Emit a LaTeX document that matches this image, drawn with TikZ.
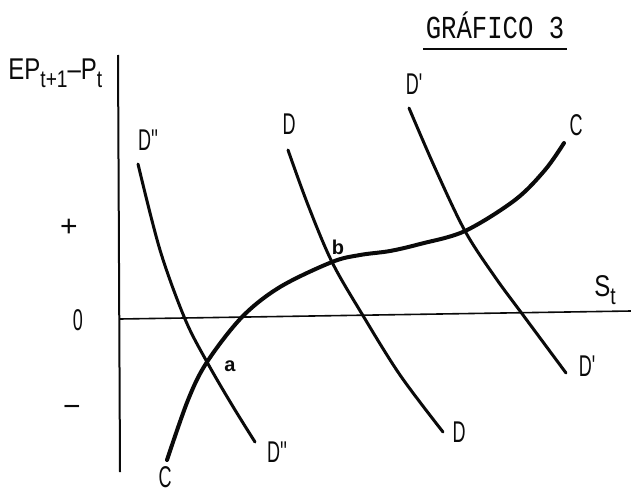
\documentclass[tikz,border=0pt]{standalone}
\usepackage{fontspec}
\setmainfont{Liberation Sans}
\newfontfamily\typefont{Liberation Mono}
\usepackage{tikz}
\usetikzlibrary{positioning}
\definecolor{ink}{RGB}{10,10,10}
\newcommand{\narrow}[1]{\scalebox{0.6}[1]{#1}}
\tikzset{
  axisline/.style={draw=ink, line width=1pt},
  supply/.style={draw=ink, line width=2pt, line cap=round},
  demand/.style={draw=ink, line width=1.5pt, line cap=round},
  lbl/.style={font=\fontsize{15}{17}\selectfont, text=ink, inner sep=0pt},
  sign/.style={font=\fontsize{15}{17}\selectfont, text=ink, inner sep=0pt},
  pt/.style={font=\fontsize{10}{11}\selectfont\bfseries, text=ink, inner sep=0pt},
  ttl/.style={font=\typefont\fontsize{16}{18}\selectfont, text=ink, inner sep=1pt},
}

\begin{document}
\begin{tikzpicture}[x=0.5pt,y=-0.5pt]
  \useasboundingbox (0,0) rectangle (631,492);
  % title
  \node[ttl] (title) at (495,25) {\scalebox{0.8}[1]{GRÁFICO 3}};
  \draw[ink, line width=0.8pt] ([yshift=-4pt]title.south west) -- ([yshift=-4pt]title.south east);
  % axes
  \coordinate (ytop) at (118,55);
  \coordinate (ybot) at (120,472);
  \coordinate (orig) at (120,319);
  \coordinate (xend) at (631,311);
  \draw[axisline] (ytop) -- (ybot);
  \draw[axisline, line width=0.8pt] (orig) -- (xend);
  \node[lbl, anchor=west] (ylab) at (8,73)
    {\scalebox{0.8}[1]{EP\raisebox{-0.5ex}{\fontsize{12}{13}\selectfont t+1}--P\raisebox{-0.5ex}{\fontsize{12}{13}\selectfont t}}};
  \node[lbl] (xlab) at (605,290) {\scalebox{0.8}[1]{S\raisebox{-0.5ex}{\fontsize{12}{13}\selectfont t}}};
  \node[sign] (plus) at (69,228) {+};
  \node[lbl] (zero) at (78,320) {\narrow{0}};
  \node[sign] (minus) at (72,411) {−};
  % supply curve C
  \draw[supply] plot[smooth, tension=0.55] coordinates {(167,460) (188,400) (207,362)
    (242,317) (280,287) (332,262) (360,255) (390,251) (420,244) (465,231)
    (515,200) (545,170) (564,143)};
  \node[lbl] (Ctop) at (576,125) {\narrow{C}};
  \node[lbl] (Cbot) at (165,477) {\narrow{C}};
  % demand curves
  \draw[demand] plot[smooth, tension=0.55] coordinates {(138,164) (160,250) (185,319)
    (207,362) (232,405) (255,442)};
  \draw[demand] plot[smooth, tension=0.55] coordinates {(288,150) (308,205) (332,262)
    (362,314) (400,375) (443,432)};
  \draw[demand] plot[smooth, tension=0.55] coordinates {(409,108) (435,168) (465,231)
    (495,277) (523,315) (566,373)};
  \node[lbl] (D2top) at (148,140) {\narrow{D\textquotesingle\textquotesingle}};
  \node[lbl] (D2bot) at (277,452) {\narrow{D\textquotesingle\textquotesingle}};
  \node[lbl] (Dtop) at (289,124) {\narrow{D}};
  \node[lbl] (Dbot) at (459,432) {\narrow{D}};
  \node[lbl] (D1top) at (414,84) {\narrow{D\textquotesingle}};
  \node[lbl] (D1bot) at (587,366) {\narrow{D\textquotesingle}};
  % equilibria
  \node[pt] (a) at (230,366) {a};
  \node[pt] (b) at (338,247) {b};
\end{tikzpicture}
\end{document}
